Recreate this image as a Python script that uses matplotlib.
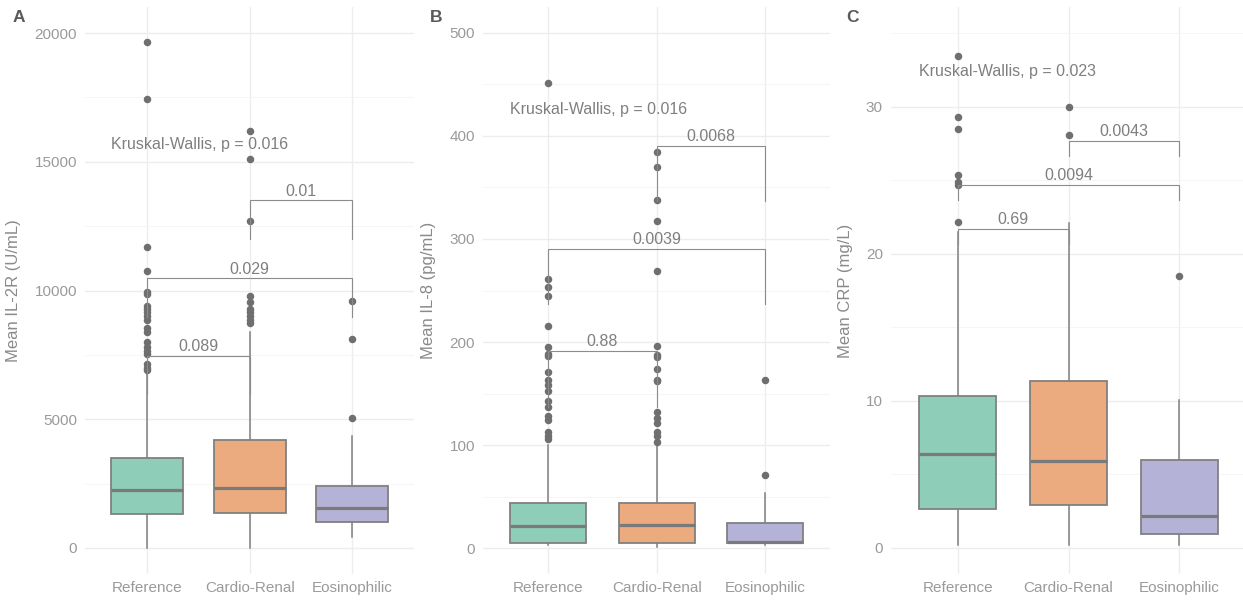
import matplotlib
matplotlib.use("Agg")
import matplotlib.pyplot as plt
from matplotlib.ticker import MultipleLocator

plt.rcParams["font.family"] = ["Liberation Sans", "DejaVu Sans"]

GROUPS = ["Reference", "Cardio-Renal", "Eosinophilic"]
FILLS = ["#8ECDB8", "#EBAB7E", "#B5B2D8"]

# box stats per group: (q1, median, q3, whisker low, whisker high)
IL2R_STATS = [(1320, 2250, 3480, 0, 6800),
              (1370, 2320, 4190, 0, 8400),
              (1010, 1540, 2410, 415, 4350)]
IL2R_FLIERS = [[19650, 17450, 11700, 10750, 9950, 9850, 9400, 9300, 9150, 9000, 8850,
                8550, 8400, 8000, 7800, 7650, 7550, 7150, 7000, 6900],
               [16200, 15100, 12700, 9800, 9560, 9300, 9150, 9000, 8850, 8750],
               [9600, 8100, 5050]]
IL2R_PAIRS = [(1, 2, 7470, "0.089"), (1, 3, 10470, "0.029"), (2, 3, 13500, "0.01")]
IL2R_KW = ("Kruskal-Wallis, p = 0.016", 15500)

IL8_STATS = [(4.5, 21.7, 43.4, 2.9, 100),
             (4.5, 21.9, 43.4, 0.7, 100),
             (4.5, 5.5, 24.6, 3.0, 53)]
IL8_FLIERS = [[451, 261, 253, 245, 216, 195, 188, 186, 171, 163, 158, 152, 143, 137,
               128, 124, 113, 109, 106],
              [384, 370, 338, 317, 269, 196, 187, 185, 174, 163, 162, 132, 126, 121,
               113, 109, 103],
              [163, 71]]
IL8_PAIRS = [(1, 2, 191, "0.88"), (1, 3, 290.5, "0.0039"), (2, 3, 390.5, "0.0068")]
IL8_KW = ("Kruskal-Wallis, p = 0.016", 421)

CRP_STATS = [(2.62, 6.38, 10.35, 0.2, 21.5),
             (2.95, 5.94, 11.37, 0.2, 22.1),
             (0.98, 2.18, 5.99, 0.2, 10.1)]
CRP_FLIERS = [[33.5, 29.3, 28.5, 25.4, 24.9, 24.7, 22.2],
              [30.0, 28.1],
              [18.5]]
CRP_PAIRS = [(1, 2, 21.7, "0.69"), (1, 3, 24.7, "0.0094"), (2, 3, 27.67, "0.0043")]
CRP_KW = ("Kruskal-Wallis, p = 0.023", 32.1)

W, H = 1243, 600
EDGE = "#808080"
GRID = "#EDEDED"

# panel: (letter, ylabel, stats, fliers, pairs, kw, ylim, major, minor, tip,
#         px left, px right, letter x, ylabel x (axes frac))
PANELS = [
    ("A", "Mean IL-2R (U/mL)", IL2R_STATS, IL2R_FLIERS, IL2R_PAIRS, IL2R_KW,
     (-1010, 21010), 5000, 2500, 1500, 85.4, 413.9, 13, -0.197),
    ("B", "Mean IL-8 (pg/mL)", IL8_STATS, IL8_FLIERS, IL8_PAIRS, IL8_KW,
     (-25.2, 525.2), 100, 50, 54, 483.3, 830.0, 430, -0.136),
    ("C", "Mean CRP (mg/L)", CRP_STATS, CRP_FLIERS, CRP_PAIRS, CRP_KW,
     (-1.77, 36.8), 10, 5, 1.0, 891.2, 1245.8, 846, -0.108),
]

fig = plt.figure(figsize=(W / 100, H / 100), dpi=100)
top_px, bot_px = 7, 574

for (letter, ylab, stats, fliers, pairs, kw, ylim, major, minor, tip,
     xl, xr, lx, ylx) in PANELS:
    ax = fig.add_axes([xl / W, (H - bot_px) / H, (xr - xl) / W, (bot_px - top_px) / H])
    bx = [dict(q1=s[0], med=s[1], q3=s[2], whislo=s[3], whishi=s[4], fliers=f)
          for s, f in zip(stats, fliers)]
    res = ax.bxp(bx, positions=[1, 2, 3], widths=0.7, patch_artist=True, showcaps=False,
                 boxprops=dict(edgecolor=EDGE, linewidth=1.3),
                 medianprops=dict(color="#7a7a7a", linewidth=2.3, solid_capstyle="butt"),
                 whiskerprops=dict(color=EDGE, linewidth=1.1),
                 flierprops=dict(marker="o", markersize=4.4, markerfacecolor="#6f6f6f",
                                 markeredgecolor="#6f6f6f", linestyle="none"),
                 zorder=3)
    for patch, c in zip(res["boxes"], FILLS):
        patch.set_facecolor(c)
    for w in res["whiskers"]:
        w.set_zorder(2)

    for a, b, y, lab in pairs:
        ax.plot([a, a, b, b], [y - tip, y, y, y - tip], color="#8c8c8c", lw=0.8,
                zorder=4, solid_joinstyle="miter")
        ax.annotate(lab, xy=((a + b) / 2, y), xytext=(0, 3.5), textcoords="offset points",
                    ha="center", va="baseline", fontsize=11.5, color="#7f7f7f")
    ax.text(0.65, kw[1], kw[0], ha="left", va="baseline", fontsize=11.5, color="#7f7f7f")

    ax.set_xlim(0.4, 3.6)
    ax.set_ylim(*ylim)
    ax.set_xticks([1, 2, 3])
    ax.set_xticklabels(GROUPS)
    ax.yaxis.set_major_locator(MultipleLocator(major))
    ax.yaxis.set_minor_locator(MultipleLocator(minor))
    ax.grid(True, which="major", color=GRID, lw=1.0, zorder=0)
    ax.grid(True, which="minor", axis="y", color="#F4F4F4", lw=0.6, zorder=0)
    ax.set_axisbelow(True)
    for sp in ax.spines.values():
        sp.set_visible(False)
    ax.tick_params(axis="both", which="both", length=0, labelsize=11, colors="#9a9a9a")
    ax.tick_params(axis="y", pad=6)
    ax.tick_params(axis="x", pad=5)
    ax.set_ylabel(ylab, fontsize=12, color="#8a8a8a")
    ax.yaxis.set_label_coords(ylx, 0.5)

    fig.text(lx / W, 1 - 21.7 / H, letter, fontsize=12.5, fontweight="bold",
             color="#5a5a5a", ha="left", va="baseline")

fig.savefig("out.png", dpi=100)
